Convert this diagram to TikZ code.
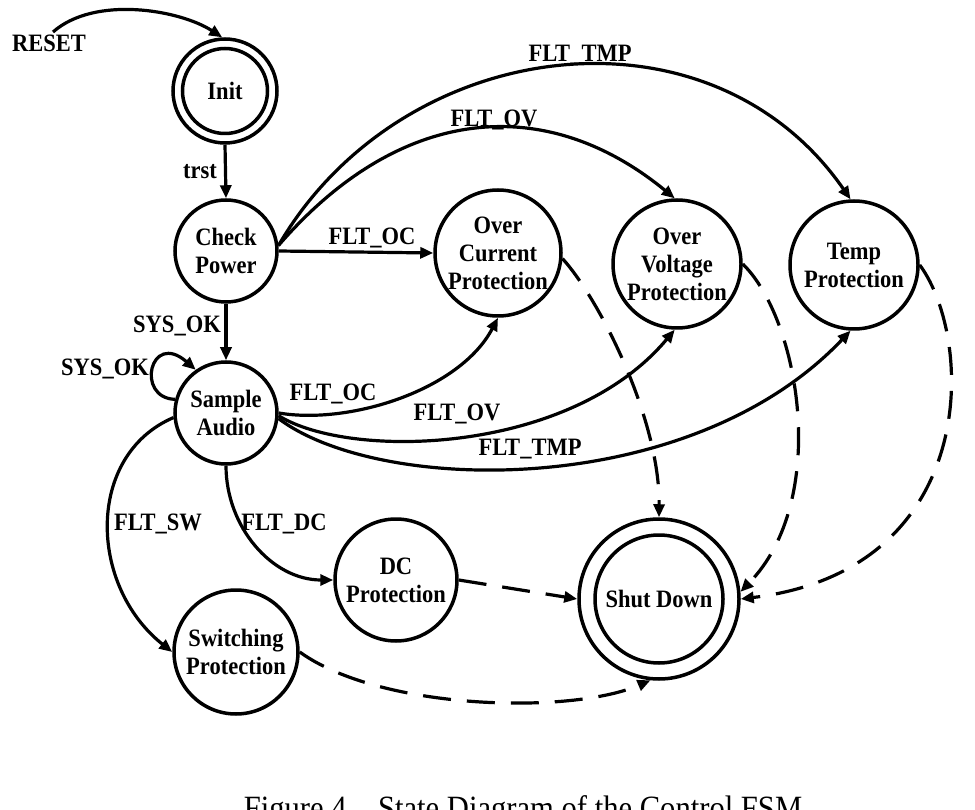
\documentclass[tikz,border=0pt]{standalone}
\usepackage{fontspec}
\setmainfont{Liberation Serif}[FakeStretch=0.9]
\usetikzlibrary{arrows.meta}
\begin{document}
\begin{tikzpicture}[x=1pt,y=1pt,
  state/.style={circle,draw,line width=3.5pt,inner sep=0pt,align=center,
    font=\fontsize{25}{28}\selectfont\bfseries},
  lbl/.style={font=\fontsize{25}{28}\selectfont\bfseries,inner sep=0pt,anchor=base},
  edge/.style={line width=3.2pt,-{Triangle[length=13pt,width=11pt]}},
  dashededge/.style={edge,dash pattern=on 28pt off 16pt}
]
\useasboundingbox (0,0) rectangle (975,-810);
\fill[white] (0,0) rectangle (975,-810);
\clip (0,0) rectangle (975,-810);

% states
\node[state,minimum size=104pt] (init) at (225,-91) {Init};
\draw[line width=3.5pt] (init.center) circle[radius=42.5pt];
\node[state,minimum size=102pt] (check) at (226,-251) {Check\\Power};
\node[state,minimum size=102pt] (sample) at (226,-413) {Sample\\Audio};
\node[state,minimum size=126pt] (oc) at (498,-253) {Over\\Current\\Protection};
\node[state,minimum size=128pt] (ov) at (677,-264) {Over\\Voltage\\Protection};
\node[state,minimum size=128pt] (temp) at (854,-265) {Temp\\Protection};
\node[state,minimum size=122pt] (dc) at (396,-580) {DC\\Protection};
\node[state,minimum size=124pt] (sw) at (236,-652) {Switching\\Protection};
\node[state,minimum size=160pt] (shut) at (659,-599) {Shut Down};
\draw[line width=3.5pt] (shut.center) circle[radius=64pt];

\coordinate (reset) at (53,-32);

% solid transitions
\draw[edge] (reset) .. controls (95,5) and (180,-10) .. (init.93);
\draw[edge] (init.south) -- (check.north);
\draw[edge] (check.south) -- (sample.north);
\draw[edge] (sample.165) .. controls (135,-398) and (150,-330) .. (sample.125);
\draw[edge] (check.east) -- (oc.west);
\draw[edge] (check.6) .. controls (400,-105) and (545,-92) .. (ov.92);
\draw[edge] (check.6) .. controls (401,-35) and (709,5) .. (temp.93);
\draw[edge] (sample.0) .. controls (350,-425) and (460,-390) .. (oc.270);
\draw[edge] (sample.-3) .. controls (350,-460) and (570,-455) .. (ov.268);
\draw[edge] (sample.-6) .. controls (380,-495) and (690,-500) .. (temp.267);
\draw[edge] (sample.185) .. controls (86,-455) and (88,-585) .. (sw.west);
\draw[edge] (sample.south) to[out=-90,in=180] (dc.west);

% dashed transitions
\draw[dashededge] (oc.-5) .. controls (600,-300) and (660,-420) .. (shut.north);
\draw[dashededge] (ov.0) .. controls (800,-320) and (830,-500) .. (shut.5);
\draw[dashededge] (temp.0) .. controls (975,-340) and (980,-570) .. (shut.0);
\draw[dashededge] (dc.east) -- (shut.west);
\draw[dashededge] (sw.east) .. controls (380,-710) and (570,-715) .. (shut.264);

% labels
\node[lbl] (lreset) at (49,-52) {RESET};
\node[lbl] (ltrst) at (200,-179) {trst};
\node[lbl] (lsys) at (177,-333) {SYS\_OK};
\node[lbl] (lsysloop) at (105,-376) {SYS\_OK};
\node[lbl] (loc1) at (372,-245) {FLT\_OC};
\node[lbl] (lov1) at (494,-127) {FLT\_OV};
\node[lbl] (ltmp1) at (580,-62) {FLT\_TMP};
\node[lbl] (loc2) at (333,-400) {FLT\_OC};
\node[lbl] (lov2) at (457,-420) {FLT\_OV};
\node[lbl] (ltmp2) at (530,-455) {FLT\_TMP};
\node[lbl] (lsw) at (158,-530) {FLT\_SW};
\node[lbl] (ldc) at (284,-530) {FLT\_DC};

% caption (cut off at the bottom edge, as in the reference)
\node[font=\fontsize{34}{40}\selectfont,inner sep=0pt,anchor=base] (caption) at (523,-819)
  {Figure 4.\hspace{0.7em}State Diagram of the Control FSM};
\end{tikzpicture}
\end{document}
